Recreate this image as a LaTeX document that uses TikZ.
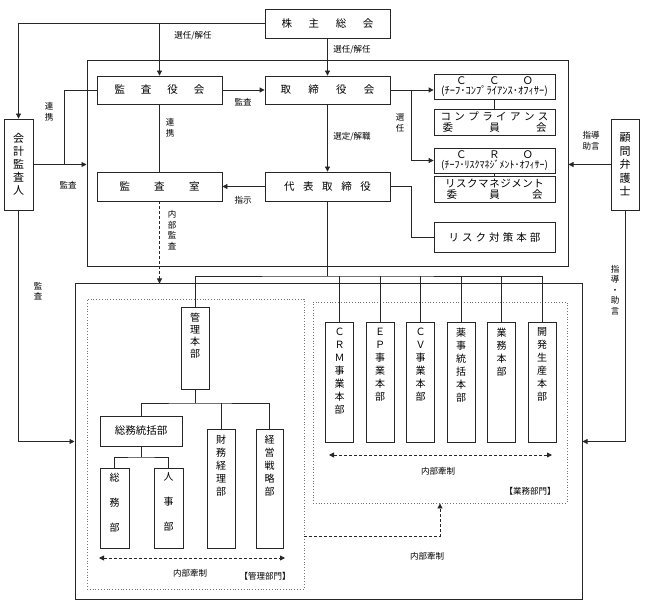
\documentclass[tikz,border=0pt]{standalone}
\usepackage{fontspec}
\setmainfont{Noto Sans CJK JP}
\usetikzlibrary{arrows.meta}
\newcommand{\spread}[2]{\makebox[#1][s]{#2}}

\begin{document}
\begin{tikzpicture}[
  x=1pt, y=-1pt,
  box/.style={draw=black!85, line width=.8pt, inner sep=0pt, align=center, font=\fontsize{10.5}{11.5}\selectfont},
  vbox/.style={box, font=\fontsize{11}{13}\selectfont},
  col/.style={draw=black!85, line width=.8pt, inner sep=0pt, minimum width=28pt},
  vlab/.style={anchor=north, yshift=-5pt, inner sep=1pt, align=center, font=\fontsize{10}{13}\selectfont},
  note/.style={inner sep=0pt, align=center, font=\fontsize{8.5}{10.5}\selectfont},
  frame/.style={draw=black!85, line width=1pt, inner sep=0pt},
  dept/.style={draw=black!55, dotted, line width=.8pt, inner sep=0pt},
  link/.style={draw=black!85, line width=.8pt},
  arr/.style={link, -{Triangle[length=5pt,width=5pt]}},
  ctrl/.style={link, dash pattern=on 3pt off 2pt, {Triangle[length=5pt,width=5pt]}-{Triangle[length=5pt,width=5pt]}}
]
  \useasboundingbox (0,0) rectangle (648,609);

  \node[frame, minimum width=481pt, minimum height=206pt] (board) at (327.5,164) {};
  \node[frame, minimum width=507pt, minimum height=315pt] (org) at (328.5,441.5) {};
  \node[dept, minimum width=217pt, minimum height=290pt] (kanri) at (195.5,444) {};
  \node[dept, minimum width=254pt, minimum height=201pt] (gyomu) at (440,402.5) {};

  \node[box, minimum width=125pt, minimum height=29pt] (soukai) at (327.5,23.5) {\spread{92pt}{株\hfil 主\hfil 総\hfil 会}};
  \node[box, minimum width=125pt, minimum height=28pt] (kansayaku) at (159.5,90) {\spread{90pt}{監\hfil 査\hfil 役\hfil 会}};
  \node[box, minimum width=125pt, minimum height=28pt] (torishimari) at (327.5,90) {\spread{94pt}{取\hfil 締\hfil 役\hfil 会}};
  \node[box, minimum width=125pt, minimum height=29pt] (kansashitsu) at (159.5,186.5) {\spread{80pt}{監\hfil 査\hfil 室}};
  \node[box, minimum width=125pt, minimum height=29pt] (daihyo) at (327.5,186.5) {\spread{87pt}{代\hfil 表\hfil 取\hfil 締\hfil 役}};

  \node[box, minimum width=121pt, minimum height=25pt] (cco) at (494.5,86.5) {\spread{77pt}{Ｃ\hfil Ｃ\hfil Ｏ}\\[-2pt]{\fontsize{10.5}{10}\selectfont (ﾁｰﾌ･ｺﾝﾌﾟﾗｲｱﾝｽ･ｵﾌｨｻｰ)}};
  \node[box, minimum width=121pt, minimum height=26pt] (compliance) at (494.5,122) {\spread{108pt}{コ\hfil ン\hfil プ\hfil ラ\hfil イ\hfil ア\hfil ン\hfil ス}\\[-1pt]\spread{104pt}{委\hfil 員\hfil 会}};
  \node[box, minimum width=121pt, minimum height=25pt] (cro) at (494.5,160.5) {\spread{77pt}{Ｃ\hfil Ｒ\hfil Ｏ}\\[-2pt]{\fontsize{10}{10}\selectfont (ﾁｰﾌ･ﾘｽｸﾏﾈｼﾞﾒﾝﾄ･ｵﾌｨｻｰ)}};
  \node[box, minimum width=121pt, minimum height=26pt] (riskcom) at (494.5,189) {\spread{99pt}{リ\hfil ス\hfil ク\hfil マ\hfil ネ\hfil ジ\hfil メ\hfil ン\hfil ト}\\[-1pt]\spread{96pt}{委\hfil 員\hfil 会}};
  \node[box, minimum width=121pt, minimum height=30pt] (riskhq) at (494.5,237) {\spread{92pt}{リ\hfil ス\hfil ク\hfil 対\hfil 策\hfil 本\hfil 部}};

  \node[vbox, minimum width=29pt, minimum height=91pt] (kaikei) at (18.5,164.5) {会\\計\\監\\査\\人};
  \node[vbox, minimum width=28pt, minimum height=91pt, font=\fontsize{11}{13.5}\selectfont] (komon) at (625,164.5) {顧\\問\\弁\\護\\士};

  \node[col, minimum height=82pt, label={[vlab, font=\fontsize{10}{12}\selectfont]north:管\\理\\本\\部}] (kanrihq) at (195,348) {};
  \node[box, minimum width=82pt, minimum height=30pt] (somutokatsu) at (141,431) {総務統括部};
  \node[col, minimum width=29pt, minimum height=80pt, label={[vlab, yshift=1pt, font=\fontsize{10}{25}\selectfont]north:総\\務\\部}] (somu) at (114.5,508) {};
  \node[col, minimum width=29pt, minimum height=80pt, label={[vlab, yshift=1pt, font=\fontsize{10}{25}\selectfont]north:人\\事\\部}] (jinji) at (168.5,508) {};
  \node[col, minimum height=119pt, label={[vlab]north:財\\務\\経\\理\\部}] (zaimu) at (221,488.5) {};
  \node[col, minimum width=27pt, minimum height=119pt, label={[vlab]north:経\\営\\戦\\略\\部}] (keiei) at (269.5,488.5) {};

  \foreach \n/\x/\t in {u1/339.5/{Ｃ\\Ｒ\\Ｍ\\事\\業\\本\\部}, u2/380/{Ｅ\\Ｐ\\事\\業\\本\\部}, u3/420.5/{Ｃ\\Ｖ\\事\\業\\本\\部},
                        u4/461/{薬\\事\\統\\括\\本\\部}, u5/501.5/{業\\務\\本\\部}, u6/542/{開\\発\\生\\産\\本\\部}} {
    \node[col, minimum height=120pt, label={[vlab]north:\t}] (\n) at (\x,382) {};
  }

  \draw[arr] (soukai.west) -| (kaikei.north);
  \draw[arr] (kansayaku.north |- soukai.west) -- (kansayaku.north);
  \draw[arr] (soukai.south) -- (torishimari.north);
  \draw[arr] (kansayaku.east) -- (torishimari.west);
  \draw[arr] (kaikei.east) -- (kaikei.east -| board.west);
  \draw[link] (kaikei.east -| 64,0) |- (kansayaku.west);
  \draw[link] (kansayaku.south) -- (kansashitsu.north);
  \draw[arr] (torishimari.south) -- (daihyo.north);
  \draw[arr] (daihyo.west) -- (kansashitsu.east);
  \draw[arr] (torishimari.east) -- (torishimari.east -| cco.west);
  \draw[arr] (torishimari.east -| 411,0) |- (cro.west);
  \draw[link] (cco.south) -- (compliance.north);
  \draw[link] (cro.south) -- (riskcom.north);
  \draw[link] (daihyo.east) -- (daihyo.east -| 411,0) |- (riskhq.west);
  \draw[arr] (komon.west) -- (komon.west -| board.east);
  \draw[arr] (komon.south) |- (org.east);
  \draw[arr] (kaikei.south) |- (org.west);
  \draw[arr, dash pattern=on 3pt off 2pt] (kansashitsu.south) -- (kansashitsu.south |- org.north);

  \coordinate (bus) at (327.5,276);
  \draw[link] (daihyo.south) -- (bus);
  \draw[link] (kanrihq.north) |- (bus) -| (u6.north);
  \foreach \n in {u1,u2,u3,u4,u5} {
    \draw[link] (\n.north) -- (\n.north |- bus);
  }

  \coordinate (kb) at (195,403);
  \draw[link] (kanrihq.south) -- (kb);
  \draw[link] (somutokatsu.north) |- (kb) -| (keiei.north);
  \draw[link] (zaimu.north) -- (zaimu.north |- kb);
  \coordinate (sb) at (141,457);
  \draw[link] (somutokatsu.south) -- (sb);
  \draw[link] (somu.north) |- (sb) -| (jinji.north);

  \coordinate (k1) at (99,558);
  \coordinate (k2) at (285,558);
  \draw[ctrl] (k1) -- (k2);
  \coordinate (g1) at (329,455);
  \coordinate (g2) at (552,455);
  \draw[ctrl] (g1) -- (g2);
  \draw[arr, dash pattern=on 3pt off 2pt] (kanri.east |- 0,536) -| (gyomu.south);

  \node[note] at (193,36) {選任/解任};
  \node[note] at (352,50) {選任/解任};
  \node[note] at (243,102) {監査};
  \node[note] at (49,112) {連\\携};
  \node[note] at (68,185) {監査};
  \node[note] at (170,128) {連\\携};
  \node[note] at (352,137) {選定/解職};
  \node[note] at (243,200) {指示};
  \node[note] at (400,123) {選\\任};
  \node[note] at (591,141) {指導\\助言};
  \node[note] at (615,290) {指\\導\\・\\助\\言};
  \node[note] at (38,291) {監\\査};
  \node[note] at (172,230) {内\\部\\監\\査};
  \node[note] at (190,573) {内部牽制};
  \node[note] at (265,576) {【管理部門】};
  \node[note] at (438,471) {内部牽制};
  \node[note] at (530,491) {【業務部門】};
  \node[note] at (427,556) {内部牽制};
\end{tikzpicture}
\end{document}
